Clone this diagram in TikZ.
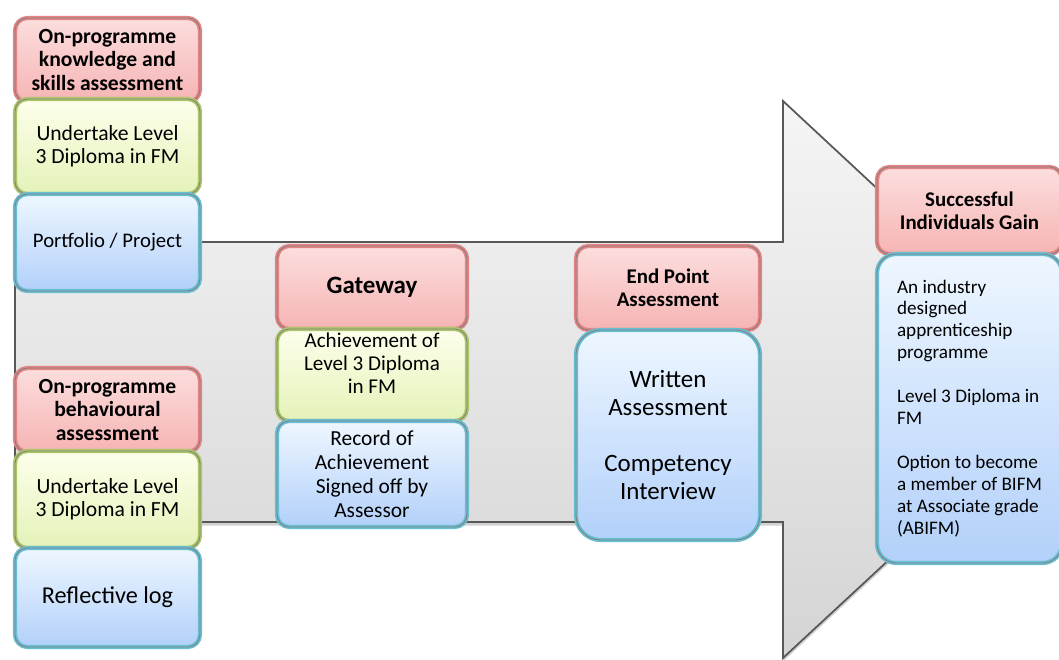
\documentclass[tikz,border=0pt]{standalone}
\usepackage{fontspec}
\setmainfont{Carlito}
\usetikzlibrary{shadows}

\definecolor{redtop}{RGB}{252,222,222}
\definecolor{redbot}{RGB}{246,180,180}
\definecolor{redglow}{RGB}{228,132,132}
\definecolor{greentop}{RGB}{253,255,236}
\definecolor{greenbot}{RGB}{228,242,184}
\definecolor{greenglow}{RGB}{172,198,104}
\definecolor{bluetop}{RGB}{238,247,255}
\definecolor{bluebot}{RGB}{178,208,250}
\definecolor{blueglow}{RGB}{104,190,210}
\definecolor{arrowtop}{RGB}{245,245,245}
\definecolor{arrowbot}{RGB}{212,212,212}
\definecolor{arrowline}{RGB}{88,88,88}

\tikzset{
  box/.style={rounded corners=7pt, line width=2.4pt, align=center, inner sep=2pt,
    font=\fontsize{12.3}{13.2}\selectfont,
    postaction={draw=black!50, line width=0.5pt, rounded corners=7pt}},
  redbox/.style={box, draw=redglow, top color=redtop, bottom color=redbot, font=\fontsize{12.3}{13.2}\selectfont\bfseries},
  greenbox/.style={box, draw=greenglow, top color=greentop, bottom color=greenbot},
  bluebox/.style={box, draw=blueglow, top color=bluetop, bottom color=bluebot},
}

\begin{document}
\begin{tikzpicture}

\clip (0,0) rectangle (21.18,13.2);
\fill[white] (0,0) rectangle (21.18,13.2);

% Big progress arrow
\draw[arrowline, line width=1pt, top color=arrowtop, bottom color=arrowbot,
  drop shadow={shadow xshift=0pt, shadow yshift=-2pt, opacity=0.35}]
  (0.3,8.36) -- (15.66,8.36) -- (15.66,11.18) -- (21.66,5.6)
  -- (15.66,0.04) -- (15.66,2.76) -- (0.3,2.76) -- cycle;

% On-programme knowledge and skills
\node[redbox, minimum width=3.7cm, minimum height=1.68cm] (ks) at (2.15,12.0)
  {On-programme\\knowledge and\\skills assessment};
\node[greenbox, minimum width=3.7cm, minimum height=1.9cm] (ud1) at (2.15,10.27)
  {Undertake Level\\3 Diploma in FM};
\node[bluebox, minimum width=3.7cm, minimum height=1.94cm, font=\fontsize{11.8}{14}\selectfont] (pp) at (2.15,8.35)
  {Portfolio / Project};

% On-programme behaviour
\node[redbox, minimum width=3.7cm, minimum height=1.68cm] (bh) at (2.15,5.0)
  {On-programme\\behavioural\\assessment};
\node[greenbox, minimum width=3.7cm, minimum height=1.94cm] (ud2) at (2.15,3.21)
  {Undertake Level\\3 Diploma in FM};
\node[bluebox, minimum width=3.7cm, minimum height=1.98cm, font=\fontsize{13.8}{16}\selectfont] (rl) at (2.15,1.25)
  {Reflective log};

% Gateway
\node[redbox, minimum width=3.8cm, minimum height=1.66cm, font=\fontsize{14.2}{16}\selectfont\bfseries] (gw) at (7.44,7.45)
  {Gateway};
\node[greenbox, minimum width=3.8cm, minimum height=1.84cm, font=\fontsize{12}{13.2}\selectfont] (ach) at (7.44,5.70)
  {Achievement of\\Level 3 Diploma\\in FM\\\mbox{}};
\node[bluebox, minimum width=3.8cm, minimum height=2.12cm, font=\fontsize{12.2}{13.7}\selectfont] (rec) at (7.44,3.72)
  {Record of\\Achievement\\Signed off by\\Assessor};

% End point assessment
\node[redbox, minimum width=3.68cm, minimum height=1.68cm, font=\fontsize{11.9}{13.2}\selectfont\bfseries] (epa) at (13.36,7.44)
  {End Point\\Assessment};
\node[bluebox, rounded corners=14pt, postaction={rounded corners=14pt}, minimum width=3.68cm, minimum height=4.2cm,
  font=\fontsize{14.2}{15.9}\selectfont] (wa) at (13.36,4.5)
  {Written\\Assessment\\\mbox{}\\Competency\\Interview};

% Outcome
\node[redbox, minimum width=3.7cm, minimum height=1.74cm, font=\fontsize{11.9}{13.2}\selectfont\bfseries] (sig) at (19.39,8.99)
  {Successful\\Individuals Gain};
\node[bluebox, rounded corners=11pt, postaction={rounded corners=11pt}, minimum width=3.7cm, minimum height=6.18cm,
  align=left, font=\fontsize{10.9}{12.5}\selectfont] (gain) at (19.39,5.03)
  {An industry\\designed\\apprenticeship\\programme\\\mbox{}\\Level 3 Diploma in\\FM\\\mbox{}\\Option to become\\a member of BIFM\\at Associate grade\\(ABIFM)};

\end{tikzpicture}
\end{document}
